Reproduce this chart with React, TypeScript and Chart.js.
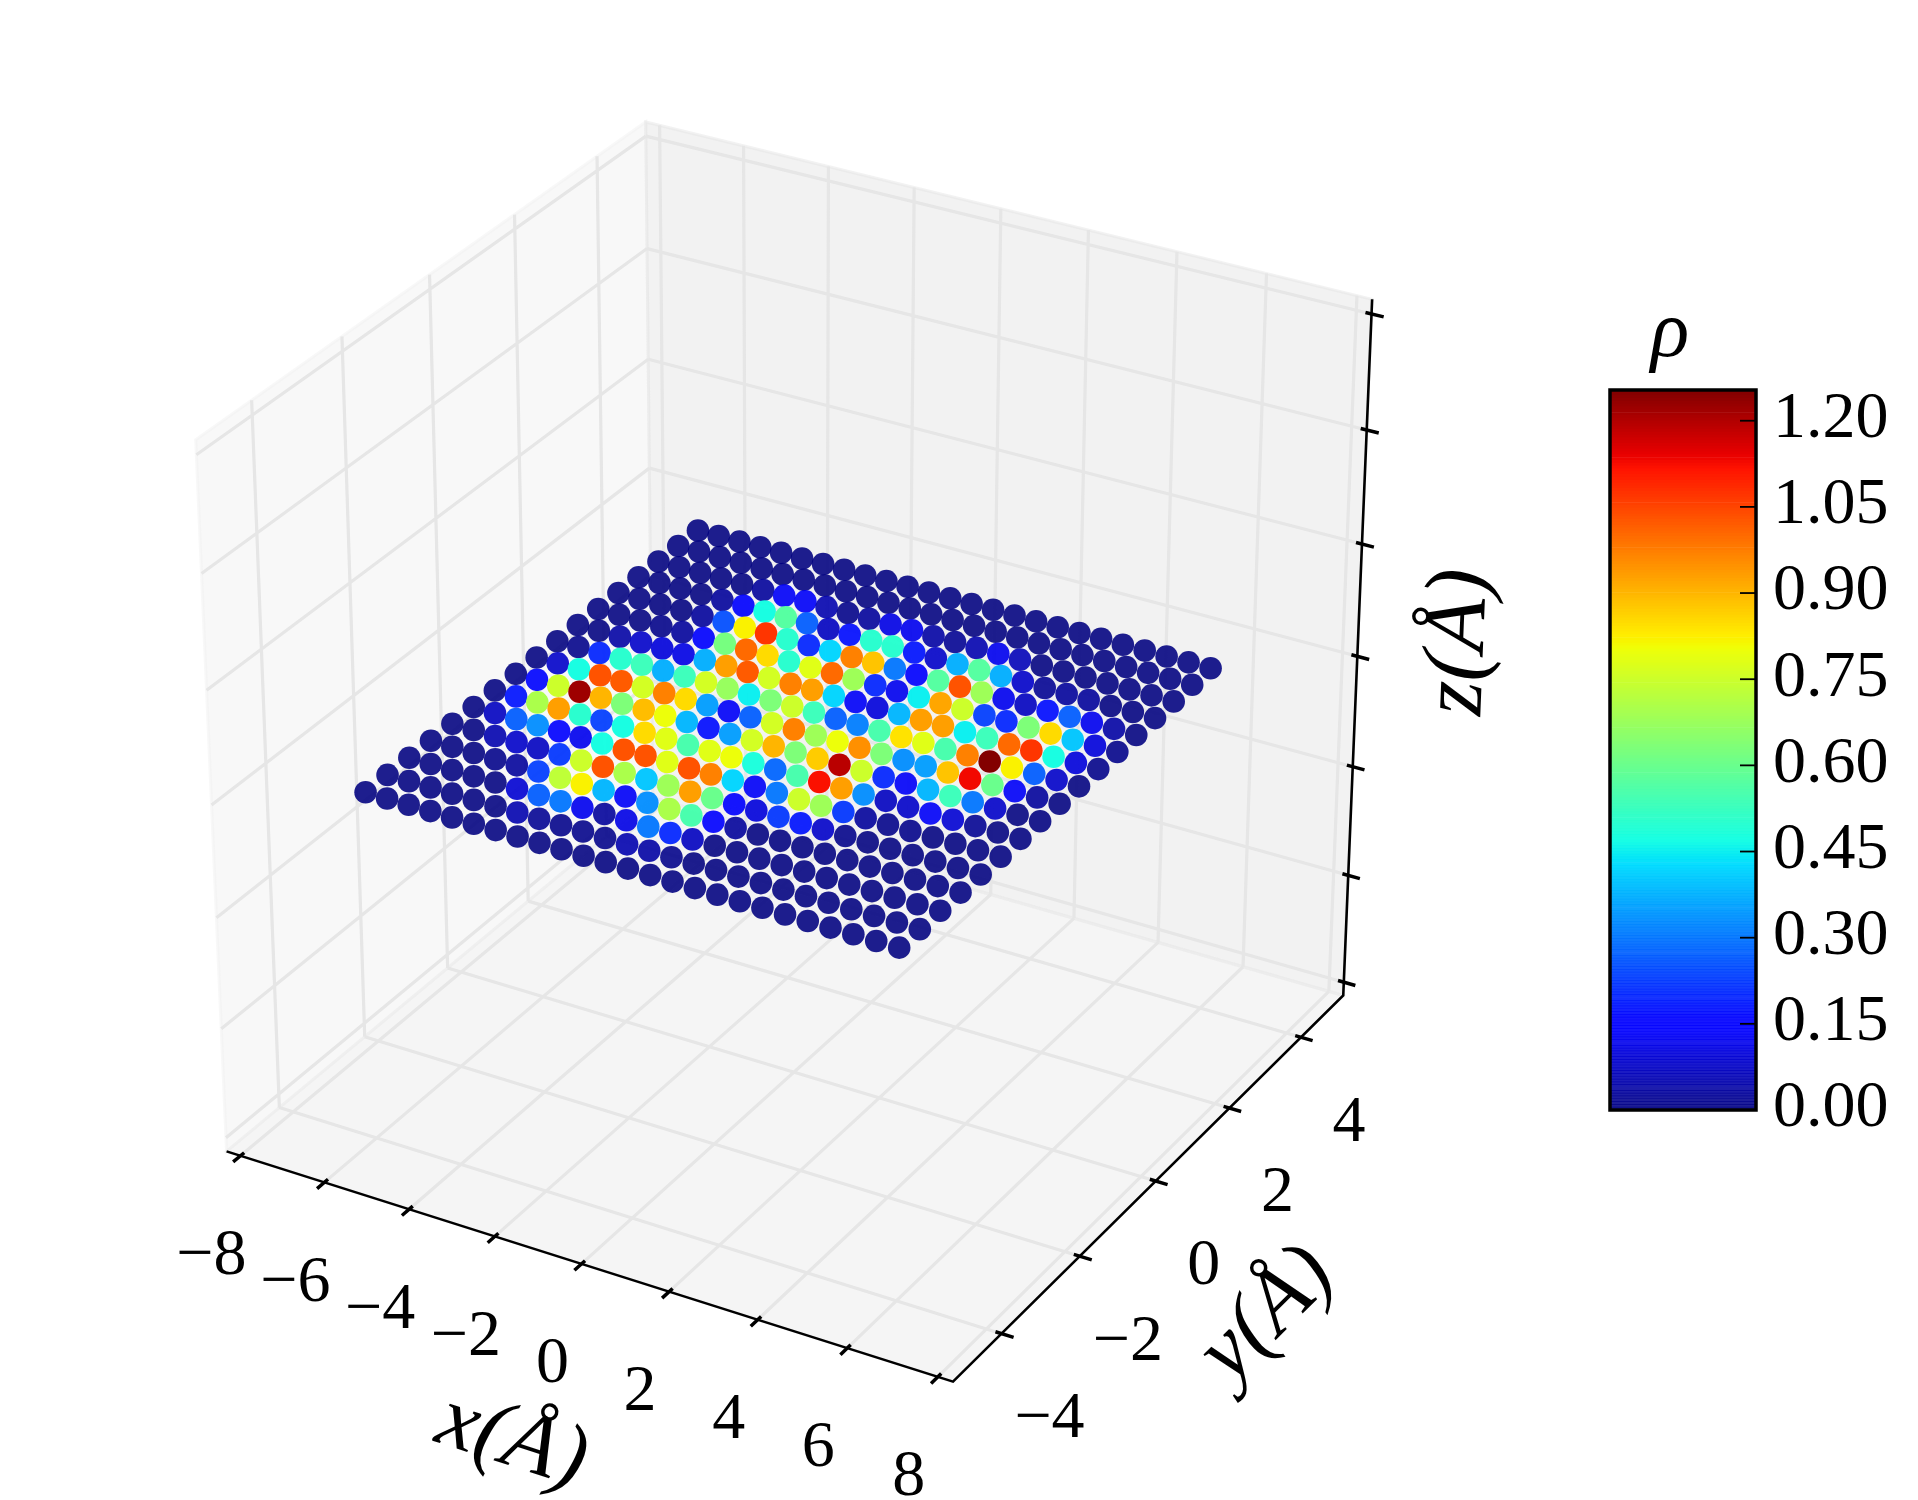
import { useEffect, useRef } from 'react';
import { Chart, registerables } from 'chart.js';

Chart.register(...registerables);

const xTicks = [-8, -6, -4, -2, 0, 2, 4, 6, 8];
const yTicks = [-4, -2, 0, 2, 4];
const zTicks = [-0.06, -0.04, -0.02, 0, 0.02, 0.04, 0.06];
const cbTicks = [0, 0.15, 0.3, 0.45, 0.6, 0.75, 0.9, 1.05, 1.2];
const RHO_MAX = 1.2535;

// atom sites, x goes -6..6 and y goes -4..4 in 0.5 steps
const siteX = [-6, -5.5, -5, -4.5, -4, -3.5, -3, -2.5, -2, -1.5, -1, -0.5, 0, 0.5, 1, 1.5, 2, 2.5, 3, 3.5, 4, 4.5, 5, 5.5, 6];
const siteY = [-4, -3.5, -3, -2.5, -2, -1.5, -1, -0.5, 0, 0.5, 1, 1.5, 2, 2.5, 3, 3.5, 4];

// density per site, one row per siteY
const rho = [
    [0, 0, 0, 0, 0, 0, 0, 0, 0, 0, 0, 0, 0, 0, 0, 0, 0, 0, 0, 0, 0, 0, 0, 0, 0],
    [0, 0, 0, 0, 0, 0, 0.05, 0.02, 0.01, 0.01, 0.01, 0.05, 0.04, 0.01, 0, 0, 0, 0, 0, 0, 0, 0, 0, 0, 0],
    [0, 0, 0, 0, 0, 0.09, 0.27, 0.3, 0.12, 0.03, 0.11, 0.3, 0.2, 0.07, 0, 0, 0, 0, 0, 0, 0, 0, 0, 0, 0],
    [0, 0, 0, 0.01, 0.03, 0.23, 0.73, 0.82, 0.38, 0.13, 0.33, 0.7, 0.55, 0.14, 0.03, 0, 0, 0, 0, 0, 0, 0, 0, 0, 0],
    [0, 0, 0.05, 0.08, 0.07, 0.22, 0.75, 1.03, 0.7, 0.4, 0.68, 0.93, 0.6, 0.15, 0.1, 0.22, 0.18, 0.08, 0.01, 0, 0, 0, 0, 0, 0],
    [0, 0.07, 0.27, 0.33, 0.15, 0.12, 0.47, 1.03, 1.03, 0.78, 1.03, 0.97, 0.42, 0.13, 0.3, 0.75, 0.68, 0.22, 0.03, 0.01, 0.01, 0, 0, 0, 0],
    [0, 0.18, 0.7, 0.93, 0.5, 0.23, 0.47, 0.85, 0.78, 0.55, 0.78, 0.8, 0.48, 0.28, 0.55, 1.12, 0.93, 0.33, 0.07, 0.08, 0.13, 0.09, 0.02, 0, 0],
    [0, 0.16, 0.75, 1.22, 0.9, 0.63, 0.89, 0.8, 0.38, 0.17, 0.35, 0.76, 0.9, 0.63, 0.87, 1.19, 0.75, 0.2, 0.13, 0.38, 0.53, 0.3, 0.08, 0, 0],
    [0, 0.08, 0.47, 1.03, 1.02, 0.76, 0.97, 0.85, 0.35, 0.13, 0.27, 0.76, 0.97, 0.68, 0.8, 0.95, 0.63, 0.33, 0.35, 0.88, 1.13, 0.6, 0.13, 0.03, 0],
    [0, 0.01, 0.2, 0.5, 0.53, 0.37, 0.53, 0.76, 0.67, 0.45, 0.63, 0.75, 0.53, 0.27, 0.31, 0.55, 0.84, 0.78, 0.55, 0.97, 1.25, 0.82, 0.27, 0.08, 0],
    [0, 0, 0.04, 0.08, 0.1, 0.11, 0.37, 0.93, 1.02, 0.76, 0.97, 0.93, 0.42, 0.13, 0.1, 0.38, 0.93, 0.93, 0.45, 0.53, 1.0, 1.07, 0.47, 0.1, 0.01],
    [0, 0, 0, 0.01, 0.03, 0.14, 0.62, 1.0, 0.85, 0.5, 0.78, 1.0, 0.68, 0.2, 0.12, 0.45, 0.92, 0.75, 0.23, 0.2, 0.63, 0.85, 0.4, 0.1, 0.01],
    [0, 0, 0, 0, 0.03, 0.25, 0.82, 1.07, 0.5, 0.2, 0.42, 0.97, 0.88, 0.3, 0.15, 0.57, 1.03, 0.68, 0.12, 0.07, 0.17, 0.27, 0.12, 0.04, 0],
    [0, 0, 0, 0, 0.03, 0.14, 0.47, 0.57, 0.27, 0.07, 0.17, 0.5, 0.5, 0.18, 0.08, 0.37, 0.57, 0.37, 0.08, 0.02, 0.03, 0.03, 0, 0, 0],
    [0, 0, 0, 0, 0, 0.03, 0.13, 0.13, 0.05, 0.01, 0.03, 0.11, 0.12, 0.04, 0.02, 0.05, 0.12, 0.06, 0, 0, 0, 0, 0, 0, 0],
    [0, 0, 0, 0, 0, 0, 0, 0, 0, 0, 0, 0, 0, 0, 0, 0, 0, 0, 0, 0, 0, 0, 0, 0, 0],
    [0, 0, 0, 0, 0, 0, 0, 0, 0, 0, 0, 0, 0, 0, 0, 0, 0, 0, 0, 0, 0, 0, 0, 0, 0],
];

const W = 1918;
const H = 1500;
// where the projected origin lands and how many px per projected unit
const OX = 793.9;
const OY = 729.4;
const KX = 8050;
const KY = 7797;
const FONT = '"Liberation Serif"';

const xLim = [-8, 8];
const yLim = [-5, 5];
const zLim = [-0.06, 0.06];
// mplot3d draws its box a bit wider than the limits
const LO = -1 / 48;
const HI = 49 / 48;

const frac = (v: number, lim: number[]) => (v - lim[0]) / (lim[1] - lim[0]);

// same camera as mplot3d: elev 30, azim -60, dist 10. fractions of the cube in, projected x/y out
const proj = (fx: number, fy: number, fz: number) => {
    const qx = fx - 0.5;
    const qy = fy - 0.5;
    const qz = fz - 0.5;
    const depth = 0.433 * qx - 0.75 * qy + 0.5 * qz;
    const u = 0.866 * qx + 0.5 * qy;
    const v = -0.25 * qx + 0.433 * qy + 0.866 * qz;
    return { x: u / (10 - depth), y: v / (10 - depth), depth };
};

const jet = (t: number) => {
    const c = (v: number) => Math.max(0, Math.min(1, v));
    const r = t < 0.89 ? c((t - 0.35) / 0.31) : 1 - (t - 0.89) * 0.5 / 0.11;
    const g = t < 0.64 ? c((t - 0.125) / 0.25) : c((0.91 - t) / 0.27);
    const b = t < 0.11 ? 0.5 + t * 0.5 / 0.11 : c((0.65 - t) / 0.31);
    return [Math.round(r * 255), Math.round(g * 255), Math.round(b * 255)];
};

const rhoColor = (v: number) => {
    const [r, g, b] = jet(Math.min(1, v / RHO_MAX));
    const a = Math.min(1, 0.88 + (0.12 * v) / 0.6);
    return `rgba(${r},${g},${b},${a})`;
};

const gap = { x: NaN, y: NaN };

const gridLines = () => {
    const pts: any[] = [];
    const seg = (a: number[], b: number[]) => {
        pts.push(proj(a[0], a[1], a[2]), proj(b[0], b[1], b[2]), gap);
    };
    xTicks.forEach((t) => {
        const f = frac(t, xLim);
        seg([f, LO, LO], [f, HI, LO]);
        seg([f, HI, LO], [f, HI, HI]);
    });
    yTicks.forEach((t) => {
        const f = frac(t, yLim);
        seg([LO, f, LO], [HI, f, LO]);
        seg([LO, f, LO], [LO, f, HI]);
    });
    zTicks.forEach((t) => {
        const f = frac(t, zLim);
        seg([LO, LO, f], [LO, HI, f]);
        seg([LO, HI, f], [HI, HI, f]);
    });
    return pts;
};

const axisLines = () => [
    proj(LO, LO, LO),
    proj(HI, LO, LO),
    proj(HI, HI, LO),
    proj(HI, HI, HI),
];

const tickLines = () => {
    const pts: any[] = [];
    const dIn = 0.1 / 12;
    const dOut = 0.2 / 12;
    xTicks.forEach((t) => {
        const f = frac(t, xLim);
        pts.push(proj(f, LO + dIn, LO), proj(f, LO - dOut, LO), gap);
    });
    yTicks.forEach((t) => {
        const f = frac(t, yLim);
        pts.push(proj(HI - dIn, f, LO), proj(HI + dOut, f, LO), gap);
    });
    zTicks.forEach((t) => {
        const f = frac(t, zLim);
        pts.push(proj(HI - dIn, HI, f), proj(HI + dOut, HI, f), gap);
    });
    return pts;
};

// far sites first so the near ones sit on top
const sites = () => {
    const out: any[] = [];
    siteY.forEach((y, j) => {
        siteX.forEach((x, i) => {
            const p = proj(frac(x, xLim), frac(y, yLim), frac(0, zLim));
            out.push({ x: p.x, y: p.y, depth: p.depth, v: rho[j][i] });
        });
    });
    return out.sort((a, b) => a.depth - b.depth);
};

const panesAndText = {
    id: 'panesAndText',
    beforeDatasetsDraw(chart: any) {
        const { ctx, scales } = chart;
        const px = (p: any) => [scales.x.getPixelForValue(p.x), scales.y.getPixelForValue(p.y)];
        const pane = (corners: number[][], color: string) => {
            ctx.beginPath();
            corners.forEach((c, i) => {
                const [a, b] = px(proj(c[0], c[1], c[2]));
                if (i === 0) ctx.moveTo(a, b);
                else ctx.lineTo(a, b);
            });
            ctx.closePath();
            ctx.fillStyle = color;
            ctx.strokeStyle = color;
            ctx.lineWidth = 3;
            ctx.fill();
            ctx.stroke();
        };
        pane([[LO, LO, LO], [LO, HI, LO], [LO, HI, HI], [LO, LO, HI]], 'rgba(242,242,242,0.5)');
        pane([[LO, HI, LO], [HI, HI, LO], [HI, HI, HI], [LO, HI, HI]], 'rgba(230,230,230,0.5)');
        pane([[LO, LO, LO], [HI, LO, LO], [HI, HI, LO], [LO, HI, LO]], 'rgba(236,236,236,0.5)');
    },
    afterDatasetsDraw(chart: any) {
        const { ctx, scales } = chart;
        const px = (p: any) => [scales.x.getPixelForValue(p.x), scales.y.getPixelForValue(p.y)];
        const fmt = (t: number) => (t < 0 ? '\u2212' + Math.abs(t) : String(t));
        ctx.save();
        ctx.fillStyle = '#000';
        ctx.textAlign = 'center';
        ctx.textBaseline = 'middle';
        ctx.font = `66px ${FONT}`;
        xTicks.forEach((t) => {
            const [a, b] = px(proj(frac(t, xLim), LO, LO));
            ctx.fillText(fmt(t), a - 29, b + 101);
        });
        yTicks.forEach((t) => {
            const [a, b] = px(proj(HI, frac(t, yLim), LO));
            ctx.fillText(fmt(t), a + 48, b + 86);
        });
        const title = (text: string, cx: number, cy: number, deg: number) => {
            ctx.save();
            ctx.translate(cx, cy);
            ctx.rotate((deg * Math.PI) / 180);
            ctx.font = `italic 88px ${FONT}`;
            ctx.fillText(text, 0, 0);
            ctx.restore();
        };
        title('x(\u00c5)', 512, 1442, 17.9);
        title('y(\u00c5)', 1268, 1315, -44.6);
        title('z(\u00c5)', 1460, 642, -87.7);
        ctx.restore();
    },
};

const colorbarDeco = {
    id: 'colorbarDeco',
    afterDatasetsDraw(chart: any) {
        const { ctx, chartArea, scales } = chart;
        ctx.save();
        ctx.strokeStyle = '#000';
        ctx.lineWidth = 1.8;
        ctx.fillStyle = '#000';
        ctx.font = `66px ${FONT}`;
        ctx.textAlign = 'left';
        ctx.textBaseline = 'middle';
        cbTicks.forEach((t) => {
            const y = scales.y.getPixelForValue(t);
            ctx.beginPath();
            ctx.moveTo(chartArea.right, y);
            ctx.lineTo(chartArea.right - 16, y);
            ctx.stroke();
            ctx.fillText(t.toFixed(2), chartArea.right + 17, y - 1);
        });
        ctx.lineWidth = 3.5;
        ctx.strokeRect(chartArea.left, chartArea.top, chartArea.right - chartArea.left, chartArea.bottom - chartArea.top);
        ctx.font = `italic 80px ${FONT}`;
        ctx.textAlign = 'center';
        ctx.fillText('\u03c1', (chartArea.left + chartArea.right) / 2 - 13, 55);
        ctx.restore();
    },
};

const App = () => {
    const chartRef = useRef<HTMLCanvasElement | null>(null);
    const barRef = useRef<HTMLCanvasElement | null>(null);

    useEffect(() => {
        const ctx = chartRef.current?.getContext('2d');
        const barCtx = barRef.current?.getContext('2d');
        if (!ctx || !barCtx) return;

        const points = sites();
        const scatter = new Chart(ctx, {
            type: 'scatter',
            data: {
                datasets: [
                    {
                        data: points,
                        backgroundColor: points.map((p) => rhoColor(p.v)),
                        pointRadius: 11.3,
                        pointBorderWidth: 0,
                        order: 0,
                    },
                    {
                        data: axisLines(),
                        showLine: true,
                        borderColor: '#000',
                        borderWidth: 2.6,
                        pointRadius: 0,
                        order: 1,
                    },
                    {
                        data: tickLines(),
                        showLine: true,
                        borderColor: '#000',
                        borderWidth: 3.5,
                        pointRadius: 0,
                        order: 1,
                    },
                    {
                        data: gridLines(),
                        showLine: true,
                        borderColor: '#e6e6e6',
                        borderWidth: 3.2,
                        pointRadius: 0,
                        order: 2,
                    },
                ],
            },
            options: {
                animation: false,
                responsive: false,
                events: [],
                layout: { padding: 0, autoPadding: false },
                plugins: { legend: { display: false }, tooltip: { enabled: false } },
                scales: {
                    x: { type: 'linear', display: false, min: -OX / KX, max: (W - OX) / KX },
                    y: { type: 'linear', display: false, min: (OY - H) / KY, max: OY / KY },
                },
            },
            plugins: [panesAndText],
        } as any);

        // colour bar: one thin stacked bar per colormap level
        const levels = 256;
        const bar = new Chart(barCtx, {
            type: 'bar',
            data: {
                labels: ['rho'],
                datasets: Array.from({ length: levels }, (_, k) => ({
                    data: [RHO_MAX / levels],
                    backgroundColor: rhoColor(((k + 0.5) * RHO_MAX) / levels),
                    borderWidth: 0,
                    barPercentage: 1,
                    categoryPercentage: 1,
                })),
            },
            options: {
                animation: false,
                responsive: false,
                events: [],
                layout: { padding: { left: 10, top: 110, bottom: 90, right: 162 }, autoPadding: false },
                plugins: { legend: { display: false }, tooltip: { enabled: false } },
                scales: {
                    x: { display: false, stacked: true },
                    y: { display: false, stacked: true, min: 0, max: RHO_MAX },
                },
            },
            plugins: [colorbarDeco],
        } as any);

        return () => {
            scatter.destroy();
            bar.destroy();
        };
    }, []);

    return (
        <div style={{ position: 'absolute', left: 0, top: 0, width: W, height: H, background: '#fff', overflow: 'hidden' }}>
            <canvas ref={chartRef} width={W} height={H} style={{ position: 'absolute', left: 0, top: 0 }} />
            <canvas ref={barRef} width={318} height={920} style={{ position: 'absolute', left: 1600, top: 280 }} />
        </div>
    );
};

export default App;
